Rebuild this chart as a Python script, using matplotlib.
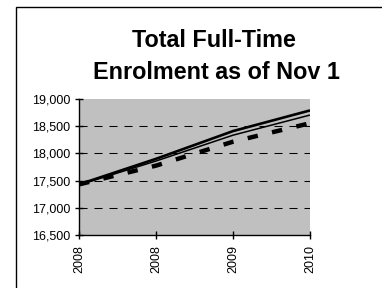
import matplotlib
matplotlib.use("Agg")
import matplotlib.pyplot as plt
from matplotlib.patches import Rectangle

plt.rcParams['font.family'] = ['Liberation Sans', 'DejaVu Sans']
plt.rcParams['lines.scale_dashes'] = False

x_labels = ["2008", "2008", "2009", "2010"]
series_a = [17430, 17900, 18410, 18790]
series_b = [17420, 17860, 18335, 18705]
series_c = [17430, 17775, 18215, 18555]
y_ticks = [16500, 17000, 17500, 18000, 18500, 19000]
title_lines = ["Total Full-Time", "Enrolment as of Nov 1"]

W, H = 382, 288
fig = plt.figure(figsize=(W / 100, H / 100), dpi=100)
fig.patch.set_facecolor("white")

# outer frame
fig.patches.append(Rectangle((16 / W, -0.1), 1.2, (H - 7) / H + 0.1, transform=fig.transFigure,
                             fill=False, edgecolor="black", linewidth=1.0))

ax = fig.add_axes([79 / W, (H - 235) / H, (310 - 79) / W, (235 - 99) / H])
ax.set_facecolor("#C0C0C0")
xs = list(range(len(x_labels)))

ax.plot(xs, series_a, color="black", linewidth=1.9, solid_capstyle="butt", zorder=3)
ax.plot(xs, series_b, color="black", linewidth=1.1, solid_capstyle="butt", zorder=3)
ax.plot(xs, series_c, color="black", linewidth=3.2, linestyle=(0, (7.5, 10.5)),
        dash_capstyle="butt", zorder=3)

ax.set_xlim(0, 3)
ax.set_ylim(16500, 19000)
ax.set_yticks(y_ticks)
ax.set_yticklabels([f"{v:,}" for v in y_ticks], fontsize=9)
ax.set_xticks(xs)
ax.set_xticklabels(x_labels, rotation=90, fontsize=9)
for v in y_ticks[1:-1]:
    ax.axhline(v, color="black", linewidth=0.75, linestyle=(0, (5.8, 5.0)), zorder=1)

for s in ["top", "right"]:
    ax.spines[s].set_visible(False)
for s in ["left", "bottom"]:
    ax.spines[s].set_linewidth(1.0)
    ax.spines[s].set_zorder(4)
ax.tick_params(axis="both", direction="inout", length=6, width=1.0)
ax.tick_params(axis="x", pad=4.5)
ax.tick_params(axis="y", pad=3.5)

fig.text(214 / W, 1 - 47.3 / H, title_lines[0], ha="center", va="baseline", fontsize=16.8,
         fontweight="bold")
fig.text(216 / W, 1 - 79 / H, title_lines[1], ha="center", va="baseline", fontsize=16.8,
         fontweight="bold")

fig.savefig("out.png", dpi=100)
